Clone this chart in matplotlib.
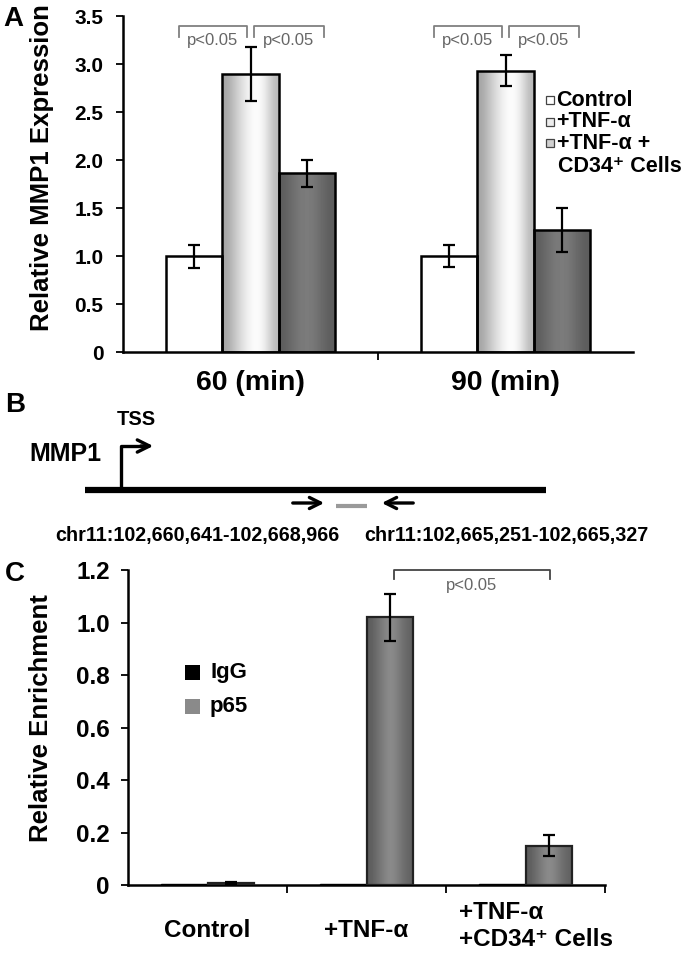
import numpy as np
import matplotlib
matplotlib.use('Agg')
import matplotlib.pyplot as plt
from matplotlib.patches import Rectangle
from matplotlib.transforms import blended_transform_factory

plt.rcParams['font.family'] = ['Liberation Sans', 'DejaVu Sans']
plt.rcParams['font.weight'] = 'bold'
plt.rcParams['axes.labelweight'] = 'bold'
plt.rcParams['axes.linewidth'] = 1.8

# ---- panel A data: relative MMP1 expression ----
time_points = ['60 (min)', '90 (min)']
control_a = [1.00, 1.00]
control_a_err = [0.12, 0.11]
tnf_a = [2.90, 2.93]
tnf_a_err = [0.28, 0.16]
cd34_a = [1.86, 1.27]
cd34_a_err = [0.14, 0.23]
legend_a = ['Control', '+TNF-\u03b1', '+TNF-\u03b1 +', 'CD34\u207a Cells']
yticks_a = [0, 0.5, 1.0, 1.5, 2.0, 2.5, 3.0, 3.5]
yticklabels_a = ['0', '0.5', '1.0', '1.5', '2.0', '2.5', '3.0', '3.5']

# ---- panel C data: ChIP relative enrichment ----
groups_c = ['Control', '+TNF-\u03b1', '+TNF-\u03b1\n+CD34\u207a Cells']
igg_c = [0.004, 0.003, 0.003]
igg_c_err = [0.002, 0.0, 0.0]
p65_c = [0.007, 1.02, 0.15]
p65_c_err = [0.004, 0.09, 0.04]
yticks_c = [0, 0.2, 0.4, 0.6, 0.8, 1.0, 1.2]
yticklabels_c = ['0', '0.2', '0.4', '0.6', '0.8', '1.0', '1.2']

# ---- panel B text ----
gene_name = 'MMP1'
tss_label = 'TSS'
gene_coords = 'chr11:102,660,641-102,668,966'
amplicon_coords = 'chr11:102,665,251-102,665,327'
pval = 'p<0.05'


def shade(ax, bars, levels):
    """fill bars with a horizontal grey gradient, clipped to each bar"""
    grad = np.array(levels)[None, :]
    for b in bars:
        x, y, w, h = b.get_x(), b.get_y(), b.get_width(), b.get_height()
        im = ax.imshow(grad, cmap='gray', vmin=0, vmax=1, aspect='auto',
                       extent=(x, x + w, y, y + h), interpolation='bicubic',
                       zorder=2)
        im.set_clip_path(b)


fig = plt.figure(figsize=(6.85, 9.55), dpi=100)

# ================= panel A =================
ax = fig.add_axes([0.1796, 0.6314, 0.7446, 0.3518])
x = np.arange(len(time_points))
w = 0.222
b1 = ax.bar(x - w, control_a, w, facecolor='white', edgecolor='black', lw=1.8, zorder=3)
b2 = ax.bar(x, tnf_a, w, facecolor='none', edgecolor='black', lw=1.8, zorder=3)
b3 = ax.bar(x + w, cd34_a, w, facecolor='none', edgecolor='black', lw=1.8, zorder=3)
shade(ax, b2, [0.64, 0.76, 0.88, 0.97, 1.0, 0.9, 0.72])
shade(ax, b3, [0.36, 0.42, 0.47, 0.49, 0.46, 0.40, 0.36])
for xs, v, e in [(x - w, control_a, control_a_err), (x, tnf_a, tnf_a_err), (x + w, cd34_a, cd34_a_err)]:
    ax.errorbar(xs, v, yerr=e, fmt='none', ecolor='black', elinewidth=1.6,
                capsize=4, capthick=1.6, zorder=4)

# significance brackets
for g in x:
    for xa, xb in [(g - w - 0.06, g - 0.015), (g + 0.012, g + w + 0.065)]:
        ax.plot([xa, xa, xb, xb], [3.28, 3.4, 3.4, 3.28], color='#808080', lw=1.3, zorder=4)
        ax.text((xa + xb) / 2, 3.25, pval, ha='center', va='center', fontsize=12,
                fontweight='normal', color='#666666')

ax.set_xlim(-0.5, 1.5)
ax.set_ylim(0, 3.5)
ax.set_yticks(yticks_a)
ax.set_yticklabels(yticklabels_a)
ax.set_xticks([0.5])
ax.set_xticklabels([])
ax.tick_params(axis='x', length=6, width=1.3)
ax.tick_params(axis='y', labelsize=15, length=5, width=1.3, pad=9)
ax.spines['top'].set_visible(False)
ax.spines['right'].set_visible(False)
ax.set_ylabel('Relative MMP1 Expression', fontsize=18.5)
ax.yaxis.set_label_coords(-0.135, 0.55)
trans_a = blended_transform_factory(ax.transData, ax.transAxes)
for g, lab in zip(x, time_points):
    ax.text(g, -0.093, lab, transform=trans_a, ha='center', va='center', fontsize=20.5)

# legend A (small squares)
sq_w, sq_h = 0.015, 0.024
leg_y = [0.75, 0.685, 0.622]
leg_face = ['white', '#ededed', '#d0d0d0']
for yy, fc, lab in zip(leg_y, leg_face, legend_a[:3]):
    ax.add_patch(Rectangle((0.83, yy - sq_h / 2), sq_w, sq_h, transform=ax.transAxes,
                           facecolor=fc, edgecolor='#444444', lw=0.9, clip_on=False))
    ax.text(0.85, yy, lab, transform=ax.transAxes, va='center', fontsize=15.5)
ax.text(0.852, 0.553, legend_a[3], transform=ax.transAxes, va='center', fontsize=15.5)

# ================= panel B (schematic) =================
axb = fig.add_axes([0, 0, 1, 1])
axb.set_xlim(0, 685)
axb.set_ylim(955, 0)
axb.axis('off')
axb.plot([85, 546], [490, 490], color='black', lw=4.5, solid_capstyle='butt')
axb.plot([121, 121, 146], [490, 446, 446], color='black', lw=2.4)
axb.annotate('', xy=(156, 446), xytext=(138, 446),
             arrowprops=dict(arrowstyle='->', lw=2.4, color='black', mutation_scale=22))
axb.text(136, 419, tss_label, ha='center', va='center', fontsize=14.5)
axb.text(65, 454, gene_name, ha='center', va='center', fontsize=18)
axb.annotate('', xy=(327, 503), xytext=(290, 503),
             arrowprops=dict(arrowstyle='->', lw=2.4, color='black', mutation_scale=20))
axb.annotate('', xy=(379, 503), xytext=(416, 503),
             arrowprops=dict(arrowstyle='->', lw=2.4, color='black', mutation_scale=20))
axb.plot([336, 367], [506, 506], color='#9a9a9a', lw=3, solid_capstyle='butt')
axb.text(197, 535, gene_coords, ha='center', va='center', fontsize=14.2)
axb.text(506, 535, amplicon_coords, ha='center', va='center', fontsize=14.2)

# panel letters
axb.text(13, 19, 'A', ha='center', va='center', fontsize=20)
axb.text(15, 405, 'B', ha='center', va='center', fontsize=20)
axb.text(15, 574, 'C', ha='center', va='center', fontsize=20)

# ================= panel C =================
axc = fig.add_axes([0.1869, 0.0733, 0.6964, 0.3298])
xc = np.arange(len(groups_c))
wc = 0.29
axc.bar(xc - wc / 2, igg_c, wc, color='black', edgecolor='black', lw=1.0, zorder=3)
bp = axc.bar(xc + wc / 2, p65_c, wc, facecolor='none', edgecolor='#222222', lw=1.6, zorder=3)
shade(axc, bp, [0.36, 0.43, 0.5, 0.56, 0.5, 0.43, 0.38])
axc.errorbar(xc + wc / 2, p65_c, yerr=p65_c_err, fmt='none', ecolor='black',
             elinewidth=1.6, capsize=4, capthick=1.6, zorder=4)
axc.plot([xc[1] + 0.17, xc[1] + 0.17, xc[2] + wc / 2 + 0.01, xc[2] + wc / 2 + 0.01],
         [1.165, 1.2, 1.2, 1.165], color='#444444', lw=1.3, zorder=4, clip_on=False)
axc.text((xc[1] + xc[2] + wc / 2 + 0.18) / 2, 1.14, pval, ha='center', va='center',
         fontsize=12, fontweight='normal', color='#666666')

axc.set_xlim(-0.5, 2.5)
axc.set_ylim(0, 1.2)
axc.set_yticks(yticks_c)
axc.set_yticklabels(yticklabels_c)
axc.set_xticks([0.5, 1.5, 2.5])
axc.set_xticklabels([])
axc.tick_params(axis='x', length=6, width=1.3)
axc.tick_params(axis='y', labelsize=17.5, length=5, width=1.3, pad=8)
axc.spines['top'].set_visible(False)
axc.spines['right'].set_visible(False)
axc.set_ylabel('Relative Enrichment', fontsize=18.5)
axc.yaxis.set_label_coords(-0.157, 0.53)
trans = blended_transform_factory(axc.transData, axc.transAxes)
axc.text(xc[0], -0.143, groups_c[0], transform=trans, ha='center', va='center', fontsize=17.5)
axc.text(xc[1], -0.143, groups_c[1], transform=trans, ha='center', va='center', fontsize=17.5)
axc.text(xc[2] - 0.42, -0.13, groups_c[2], transform=trans, ha='left', va='center',
         fontsize=17.5, linespacing=1.2)

# legend C
sw, sh = 0.031, 0.048
for yy, fc, lab in [(0.676, 'black', 'IgG'), (0.568, '#8a8a8a', 'p65')]:
    axc.add_patch(Rectangle((0.12, yy - sh / 2), sw, sh, transform=axc.transAxes,
                            facecolor=fc, edgecolor='none'))
    axc.text(0.172, yy, lab, transform=axc.transAxes, va='center', fontsize=16)

fig.savefig('out.png', dpi=100)
